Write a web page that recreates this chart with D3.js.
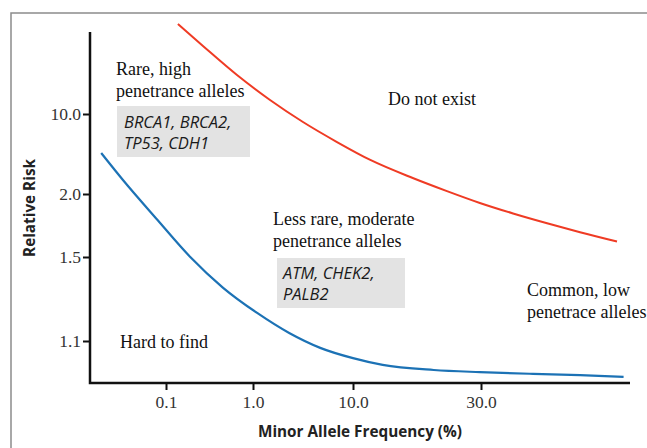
<!DOCTYPE html>
<html>
<head>
<meta charset="utf-8">
<script src="https://cdn.jsdelivr.net/npm/d3@7"></script>
<style>
    body { margin: 0; background: #fff; }
    svg { display: block; }
    .tick text { font-family: 'Liberation Serif', 'Times New Roman', serif; font-size: 17.5px; fill: #333; }
    .note { font-family: 'Liberation Serif', 'Times New Roman', serif; font-size: 18px; fill: #111; }
    .gene { font-family: 'Open Sans', sans-serif; font-style: italic; font-size: 16.5px; fill: #1a1a1a; }
    .axis-title { font-family: 'Open Sans', sans-serif; font-weight: bold; font-size: 15.3px; fill: #222; }
</style>
</head>
<body>
<div class="chart"></div>
<script>
const svgWidth = 647;
const svgHeight = 448;

// tick values
const xTicks = [0.1, 1.0, 10.0, 30.0];
const yTicks = [10.0, 2.0, 1.5, 1.1];

// minor allele frequency (%) / relative risk
const highFreq = [0.137, 0.266, 0.655, 1.48, 3.16, 6.92, 11.6, 16.7, 22.4, 29.7, 39.5, 52.9, 70.2, 96.4];
const highRisk = [61.1, 39.3, 21.9, 13.25, 8.51, 5.69, 3.97, 2.76, 2.12, 1.92, 1.83, 1.75, 1.68, 1.61];

const lowFreq = [0.018, 0.032, 0.079, 0.19, 0.45, 1.1, 2.3, 4.7, 10, 12.9, 20, 29.7, 46.9, 70.2, 102];
const lowRisk = [4.56, 2.65, 1.78, 1.5, 1.34, 1.22, 1.133, 1.083, 1.058, 1.042, 1.030, 1.025, 1.021, 1.018, 1.014];

// schematic axes: ticks are not evenly spaced in log terms, so piecewise scales
const xScale = d3.scaleLog().domain([0.1, 1, 10, 30]).range([166, 253, 353, 481]);
const yScale = d3.scaleLog().domain([1.0, 1.1, 1.5, 2, 10]).range([383, 341, 257, 194, 114]);

const svg = d3
    .select('.chart')
    .append('svg')
    .attr('width', svgWidth)
    .attr('height', svgHeight);

// outer frame (cut off at right and bottom)
svg.append('rect')
    .attr('x', 11)
    .attr('y', 13)
    .attr('width', 700)
    .attr('height', 500)
    .attr('fill', 'none')
    .attr('stroke', '#8c8c8c')
    .attr('stroke-width', 1.5);

// gray boxes behind gene names
const boxes = [
    { x: 117, y: 106, w: 133, h: 51 },
    { x: 277, y: 258, w: 128, h: 50 },
];
svg.selectAll('rect.box')
    .data(boxes)
    .join('rect')
    .attr('class', 'box')
    .attr('x', (d) => d.x)
    .attr('y', (d) => d.y)
    .attr('width', (d) => d.w)
    .attr('height', (d) => d.h)
    .attr('fill', '#e3e3e3');

// axes
const xAxis = svg
    .append('g')
    .attr('transform', 'translate(0,383)')
    .call(d3.axisBottom(xScale).tickValues(xTicks).tickFormat(d3.format('.1f')).tickSize(7));
xAxis.select('.domain').remove();
xAxis.selectAll('.tick line').attr('stroke', '#111').attr('stroke-width', 2);
xAxis.selectAll('.tick text').attr('dy', 0).attr('y', 25);

const yAxis = svg
    .append('g')
    .attr('transform', 'translate(90,0)')
    .call(d3.axisLeft(yScale).tickValues(yTicks).tickFormat(d3.format('.1f')).tickSize(7));
yAxis.select('.domain').remove();
yAxis.selectAll('.tick line').attr('stroke', '#111').attr('stroke-width', 2);
yAxis.selectAll('.tick text').attr('x', -9);

svg.append('path')
    .attr('d', 'M90,32V383H630')
    .attr('fill', 'none')
    .attr('stroke', '#111')
    .attr('stroke-width', 2.5);

// curves
const line = d3
    .line()
    .x((d) => xScale(d[0]))
    .y((d) => yScale(d[1]))
    .curve(d3.curveMonotoneX);

svg.append('path')
    .datum(d3.zip(highFreq, highRisk))
    .attr('d', line)
    .attr('fill', 'none')
    .attr('stroke', '#ef3b24')
    .attr('stroke-width', 2);

svg.append('path')
    .datum(d3.zip(lowFreq, lowRisk))
    .attr('d', line)
    .attr('fill', 'none')
    .attr('stroke', '#1c72b5')
    .attr('stroke-width', 2.2);

// annotations
const notes = [
    { t: 'Rare, high', x: 116, y: 75, c: 'note' },
    { t: 'penetrance alleles', x: 116, y: 97, c: 'note' },
    { t: 'BRCA1, BRCA2,', x: 124, y: 128, c: 'gene' },
    { t: 'TP53, CDH1', x: 124, y: 149, c: 'gene' },
    { t: 'Do not exist', x: 388, y: 105, c: 'note' },
    { t: 'Less rare, moderate', x: 273, y: 225, c: 'note' },
    { t: 'penetrance alleles', x: 273, y: 247, c: 'note' },
    { t: 'ATM, CHEK2,', x: 283, y: 279, c: 'gene' },
    { t: 'PALB2', x: 283, y: 300, c: 'gene' },
    { t: 'Common, low', x: 527, y: 296, c: 'note' },
    { t: 'penetrace alleles', x: 527, y: 318, c: 'note' },
    { t: 'Hard to find', x: 120, y: 348, c: 'note' },
];
svg.selectAll('text.ann')
    .data(notes)
    .join('text')
    .attr('class', (d) => 'ann ' + d.c)
    .attr('x', (d) => d.x)
    .attr('y', (d) => d.y)
    .text((d) => d.t);

// axis titles
svg.append('text')
    .attr('class', 'axis-title')
    .attr('text-anchor', 'middle')
    .attr('transform', 'translate(35,208) rotate(-90)')
    .text('Relative Risk');

svg.append('text')
    .attr('class', 'axis-title')
    .attr('text-anchor', 'middle')
    .attr('x', 360)
    .attr('y', 437)
    .text('Minor Allele Frequency (%)');
</script>
</body>
</html>
